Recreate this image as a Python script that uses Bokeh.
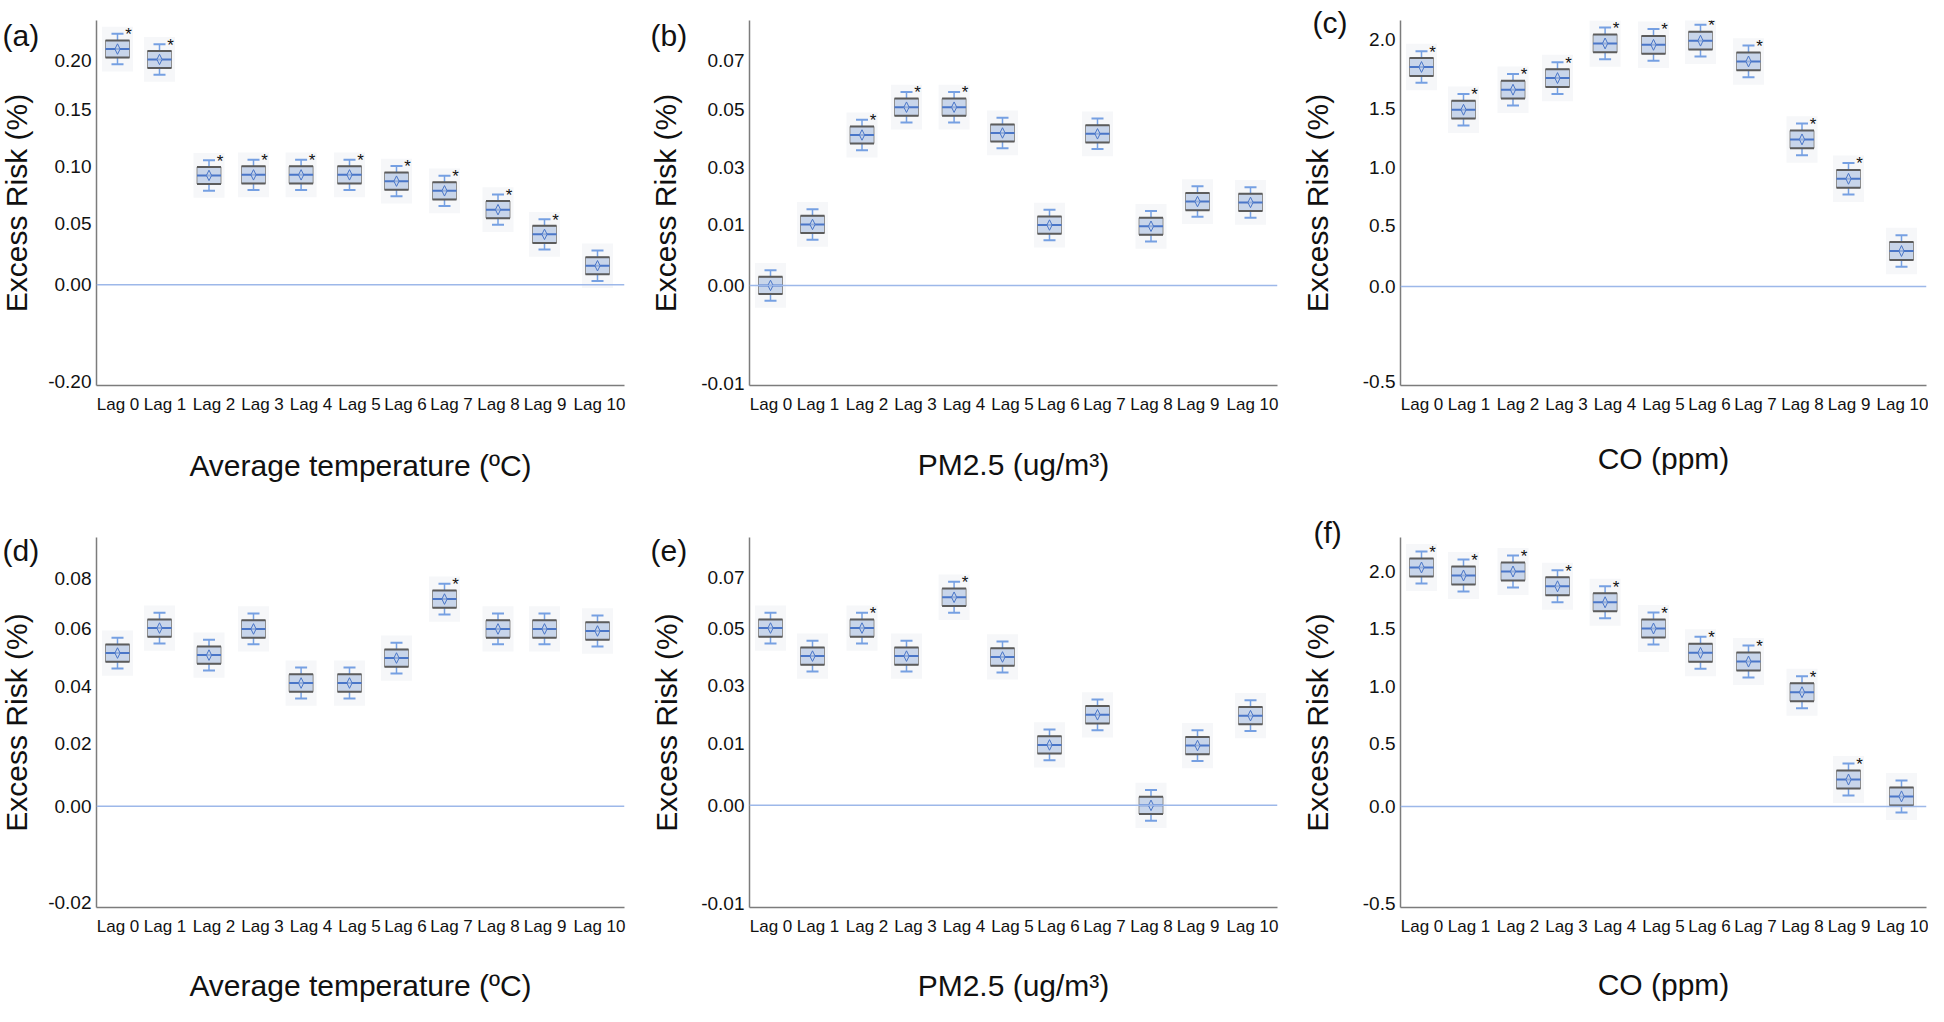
import numpy as np
from bokeh.plotting import figure
from bokeh.layouts import row, column
from bokeh.models import Range1d, FixedTicker, Span, Label, AllLabels
from bokeh.embed import file_html
from bokeh.resources import INLINE
from bokeh.core.properties import value

# ---------------- data ----------------
lag_labels = ["Lag 0", "Lag 1", "Lag 2", "Lag 3", "Lag 4", "Lag 5",
              "Lag 6", "Lag 7", "Lag 8", "Lag 9", "Lag 10"]

# (a) average temperature, upper row
temp_a = [0.2115, 0.201, 0.0925, 0.093, 0.093, 0.093, 0.0875, 0.079, 0.0625, 0.0414, 0.0156]
sig_a = [1, 1, 1, 1, 1, 1, 1, 1, 1, 1, 0]
ticks_a = [-0.20, 0.00, 0.05, 0.10, 0.15, 0.20]
labels_a = ["-0.20", "0.00", "0.05", "0.10", "0.15", "0.20"]

# (b) PM2.5, upper row
pm_b = [0.000, 0.010, 0.0411, 0.0508, 0.0508, 0.0418, 0.0099, 0.0415, 0.0097, 0.018, 0.0177]
sig_b = [0, 0, 1, 1, 1, 0, 0, 0, 0, 0, 0]
ticks_b = [-0.01, 0.00, 0.01, 0.03, 0.05, 0.07]
labels_b = ["-0.01", "0.00", "0.01", "0.03", "0.05", "0.07"]

# (c) CO, upper row
co_c = [1.80, 1.49, 1.636, 1.72, 1.97, 1.96, 1.99, 1.84, 1.24, 0.905, 0.29]
sig_c = [1, 1, 1, 1, 1, 1, 1, 1, 1, 1, 0]
ticks_c = [-0.5, 0.0, 0.5, 1.0, 1.5, 2.0]
labels_c = ["-0.5", "0.0", "0.5", "1.0", "1.5", "2.0"]

# (d) average temperature, lower row
temp_d = [0.0515, 0.060, 0.0508, 0.0597, 0.0413, 0.0413, 0.0498, 0.0718, 0.0597, 0.0597, 0.059]
sig_d = [0, 0, 0, 0, 0, 0, 0, 1, 0, 0, 0]
ticks_d = [-0.02, 0.00, 0.02, 0.04, 0.06, 0.08]
labels_d = ["-0.02", "0.00", "0.02", "0.04", "0.06", "0.08"]

# (e) PM2.5, lower row
pm_e = [0.050, 0.0403, 0.050, 0.0403, 0.0623, 0.040, 0.0098, 0.020, 0.000, 0.0097, 0.0197]
sig_e = [0, 0, 1, 0, 1, 0, 0, 0, 0, 0, 0]
ticks_e = [-0.01, 0.00, 0.01, 0.03, 0.05, 0.07]
labels_e = ["-0.01", "0.00", "0.01", "0.03", "0.05", "0.07"]

# (f) CO, lower row
co_f = [2.035, 1.965, 2.0, 1.87, 1.73, 1.5, 1.29, 1.215, 0.95, 0.214, 0.08]
sig_f = [1, 1, 1, 1, 1, 1, 1, 1, 1, 1, 0]
ticks_f = [-0.5, 0.0, 0.5, 1.0, 1.5, 2.0]
labels_f = ["-0.5", "0.0", "0.5", "1.0", "1.5", "2.0"]

x_titles = ["Average temperature (ºC)", "PM2.5 (ug/m³)", "CO (ppm)"]
y_title = "Excess Risk (%)"

# ---------------- layout / style ----------------
FONT = "Liberation Sans"
BOX_FILL = "#c8d5ea"
BOX_EDGE = "#5c5c5c"
BOX_SIDE = "#8e8e8e"
MED_COL = "#4a76c8"
WHISK_COL = "#76a0e2"
ZERO_COL = "#9db8e9"
AXIS_COL = "#7c7c7c"
EXTRA = 50  # hidden extra left room (overlaps neighbour via a negative margin)

# horizontal layout of the eleven lag slots (px from the left end of the x axis)
box_px = [21, 63, 112.5, 157, 204.6, 253, 300, 348, 401.5, 448, 501]
label_px = [21.5, 68.5, 117.5, 166, 214.5, 263, 309, 355, 402, 448.6, 503]

# drawn tick positions (px above x axis) for the piecewise axis of each panel
tickpos = {
    "a": [4, 106, 170, 230, 290, 342],
    "b": [2, 105, 169, 229, 290, 341],
    "c": [4, 100, 162, 220, 280, 350],
    "d": [5, 105, 170, 229, 290, 341],
    "e": [4, 106, 170, 230, 290, 342],
    "f": [4, 101, 164, 221, 279, 336],
}


def to_axis(vals, tvals, tpos):
    v = np.asarray(vals, dtype=float)
    tv = np.asarray(tvals, dtype=float)
    tp = np.asarray(tpos, dtype=float)
    out = np.interp(v, tv, tp)
    hi = v > tv[-1]
    slope = (tp[-1] - tp[-2]) / (tv[-1] - tv[-2])
    out[hi] = tp[-1] + (v[hi] - tv[-1]) * slope
    return out


def make_panel(tag, vals, sig, tvals, tlabels, tpos, xtitle, W, H, bl, bt, fw, fh,
               ylab_s, xlab_s, tag_dx, tag_dy):
    br = W - bl - fw
    bb = H - bt - fh
    p = figure(width=W + EXTRA, height=H, x_range=Range1d(0, fw),
               y_range=Range1d(0, fh),
               output_backend="svg", toolbar_location=None,
               min_border_left=bl + EXTRA, min_border_right=br, min_border_top=bt,
               min_border_bottom=bb, margin=(0, 0, 0, -EXTRA))
    p.outline_line_color = None
    p.xgrid.visible = False
    p.ygrid.visible = False
    p.background_fill_color = "white"
    p.border_fill_color = None

    x = np.asarray(box_px, dtype=float)
    y = to_axis(vals, tvals, tpos)
    zero = float(np.interp(0.0, tvals, tpos))

    # faint backdrop behind each box
    p.rect(x, y, width=31, height=47, fill_color="#f6f7f9", line_color=None)

    p.add_layout(Span(location=zero, dimension="width", line_color=ZERO_COL,
                      line_width=1.5))

    # whiskers
    p.segment(x0=x, y0=y + 9, x1=x, y1=y + 16, line_color=WHISK_COL, line_width=1.5)
    p.segment(x0=x, y0=y - 9, x1=x, y1=y - 16, line_color=WHISK_COL, line_width=1.5)
    p.segment(x0=x - 6, y0=y + 16, x1=x + 6, y1=y + 16, line_color=WHISK_COL, line_width=2)
    p.segment(x0=x - 6, y0=y - 16, x1=x + 6, y1=y - 16, line_color=WHISK_COL, line_width=2)
    # box
    p.rect(x, y, width=24, height=18, fill_color=BOX_FILL, line_color=BOX_SIDE, line_width=1)
    p.segment(x0=x - 12, y0=y + 9, x1=x + 12, y1=y + 9, line_color=BOX_EDGE, line_width=2)
    p.segment(x0=x - 12, y0=y - 9, x1=x + 12, y1=y - 9, line_color=BOX_EDGE, line_width=2)
    # median
    p.segment(x0=x - 12, y0=y, x1=x + 12, y1=y, line_color=MED_COL, line_width=2)
    # mean diamond
    xs = [[xi - 2.6, xi, xi + 2.6, xi] for xi in x]
    ys = [[yi, yi + 5.5, yi, yi - 5.5] for yi in y]
    p.patches(xs, ys, fill_color=BOX_FILL, fill_alpha=0.6, line_color=MED_COL, line_width=1)

    # significance stars
    sx = [xi for xi, s in zip(x, sig) if s]
    sy = [yi + 15 for yi, s in zip(y, sig) if s]
    if sx:
        p.text(sx, sy, text=["*"] * len(sx), x_offset=11, text_align="center",
               text_baseline="middle", text_font=value(FONT), text_font_size="17px",
               text_color="#111111")

    # panel tag (placed in the left side panel so that it is not clipped to the frame)
    p.add_layout(Label(x=0, y=fh + tag_dy, x_offset=tag_dx, text=tag,
                       text_font=FONT, text_font_size="30px", text_color="#111111",
                       text_align="left", text_baseline="middle"), "left")

    # axes
    xa = p.xaxis[0]
    ya = p.yaxis[0]
    lab_ticks = [float(v) for v in label_px]
    xa.ticker = FixedTicker(ticks=lab_ticks)
    xa.major_label_overrides = {t: lab for t, lab in zip(lab_ticks, lag_labels)}
    xa.major_label_policy = AllLabels()
    xa.major_label_text_font_size = "17px"
    xa.major_label_standoff = 9
    xa.axis_label = xtitle
    xa.axis_label_standoff = xlab_s

    ya.ticker = FixedTicker(ticks=[float(t) for t in tpos])
    ya.major_label_overrides = {float(t): lab for t, lab in zip(tpos, tlabels)}
    ya.major_label_policy = AllLabels()
    ya.major_label_text_font_size = "19px"
    ya.major_label_standoff = 5
    ya.axis_label = y_title
    ya.axis_label_standoff = ylab_s

    for ax in (xa, ya):
        ax.major_tick_line_color = None
        ax.minor_tick_line_color = None
        ax.major_tick_out = 0
        ax.major_tick_in = 0
        ax.minor_tick_out = 0
        ax.axis_line_color = AXIS_COL
        ax.axis_line_width = 1.5
        ax.major_label_text_font = FONT
        ax.major_label_text_color = "#111111"
        ax.axis_label_text_font = FONT
        ax.axis_label_text_font_size = "30px"
        ax.axis_label_text_font_style = "normal"
        ax.axis_label_text_color = "#111111"
    return p


H1, H2 = 486, 520
pa = make_panel("(a)", temp_a, sig_a, ticks_a, labels_a, tickpos["a"], x_titles[0],
                646, H1, 96, 2, 528, 384, 12, 32, -94, -16)
pb = make_panel("(b)", pm_b, sig_b, ticks_b, labels_b, tickpos["b"], x_titles[1],
                644, H1, 103, 2, 528, 383, 16, 31, -99, -16)
pc = make_panel("(c)", co_c, sig_c, ticks_c, labels_c, tickpos["c"], x_titles[2],
                638, H1, 110, 20, 526, 369, 26, 25, -88, -2)
pd = make_panel("(d)", temp_d, sig_d, ticks_d, labels_d, tickpos["d"], x_titles[0],
                646, H2, 96, 42, 528, 384, 12, 30, -94, -14)
pe = make_panel("(e)", pm_e, sig_e, ticks_e, labels_e, tickpos["e"], x_titles[1],
                644, H2, 103, 42, 528, 384, 15, 30, -99, -14)
pf = make_panel("(f)", co_f, sig_f, ticks_f, labels_f, tickpos["f"], x_titles[2],
                638, H2, 110, 51, 526, 370, 26, 29, -87, 5)

layout = column(row(pa, pb, pc), row(pd, pe, pf))

open("out.html", "w").write(file_html(layout, INLINE))
